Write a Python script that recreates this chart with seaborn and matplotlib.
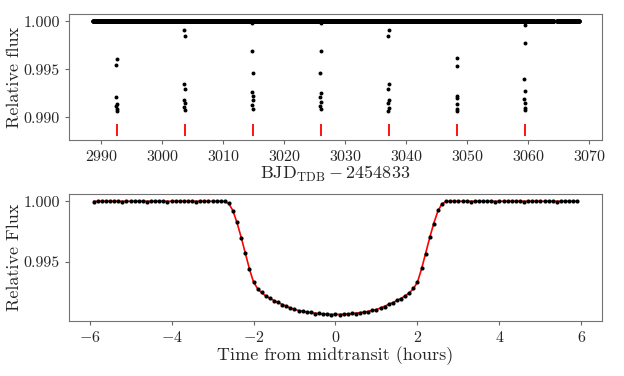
import numpy as np
import pandas as pd
import matplotlib
matplotlib.use("Agg")
import matplotlib.pyplot as plt
import seaborn as sns

sns.set_style("ticks")
plt.rcParams["font.family"] = "serif"
plt.rcParams["font.serif"] = ["cmr10", "DejaVu Serif"]
plt.rcParams["mathtext.fontset"] = "cm"
plt.rcParams["axes.formatter.use_mathtext"] = True
plt.rcParams["axes.unicode_minus"] = True

# ---- top panel: full light curve ----
# out-of-transit stretches (start, end) in days, sampled at Kepler long cadence
baseline_segments = [(2988.6, 3064.2), (3064.7, 3068.4)]
cadence = 0.0204
baseline_flux = 1.0

transit_times = [2992.55, 3003.7, 3014.85, 3026.0, 3037.15, 3048.3, 3059.45]

# in-transit points near each transit: (time, flux)
transit_pts = [
    (2992.50, 0.99605), (2992.45, 0.99545), (2992.47, 0.99216), (2992.52, 0.99140),
    (2992.48, 0.99113), (2992.50, 0.99085), (2992.51, 0.99062),
    (3003.62, 0.99910), (3003.70, 0.99850), (3003.62, 0.99348), (3003.70, 0.99293),
    (3003.63, 0.99178), (3003.70, 0.99147), (3003.62, 0.99110), (3003.66, 0.99078),
    (3014.78, 0.99980), (3014.77, 0.99694), (3014.83, 0.99465), (3014.77, 0.99262),
    (3014.83, 0.99220), (3014.80, 0.99180), (3014.76, 0.99130), (3014.80, 0.99085),
    (3025.97, 0.99980), (3025.96, 0.99694), (3025.92, 0.99459), (3025.96, 0.99251),
    (3025.93, 0.99210), (3025.98, 0.99164), (3025.93, 0.99120), (3025.95, 0.99085),
    (3037.10, 0.99910), (3037.05, 0.99850), (3037.13, 0.99348), (3037.07, 0.99293),
    (3037.13, 0.99182), (3037.07, 0.99147), (3037.10, 0.99100), (3037.08, 0.99067),
    (3048.25, 0.99615), (3048.33, 0.99538), (3048.25, 0.99223), (3048.30, 0.99200),
    (3048.26, 0.99137), (3048.30, 0.99088), (3048.28, 0.99067),
    (3059.40, 0.99962), (3059.48, 0.99771), (3059.37, 0.99397), (3059.43, 0.99275),
    (3059.38, 0.99189), (3059.42, 0.99147), (3059.40, 0.99100), (3059.42, 0.99077),
]

# ---- bottom panel: phase-folded transit ----
fold_time = np.round(np.arange(-5.9, 5.95, 0.1), 2)
fold_flux = [
    0.99993, 1.00002, 1.00001, 0.99998, 1.00003, 0.99999, 1.00001, 0.99997, 1.00002, 1.00000,
    0.99998, 1.00003, 1.00001, 0.99997, 1.00002, 1.00000, 1.00004, 0.99999, 0.99997, 1.00002,
    1.00001, 0.99998, 1.00003, 0.99999, 1.00000, 0.99997, 1.00002, 1.00001, 0.99998, 1.00002,
    0.99999, 1.00006, 1.00002, 0.99984, 0.99916, 0.99824, 0.99694, 0.99574, 0.99436, 0.99334,
    0.99271, 0.99244, 0.99212, 0.99198, 0.99174, 0.99163, 0.99141, 0.99133, 0.99112, 0.99106,
    0.99091, 0.99089, 0.99078, 0.99079, 0.99069, 0.99071, 0.99062, 0.99066, 0.99059, 0.99063,
    0.99058, 0.99066, 0.99062, 0.99071, 0.99069, 0.99074, 0.99084, 0.99085, 0.99097, 0.99100,
    0.99118, 0.99127, 0.99148, 0.99157, 0.99181, 0.99192, 0.99218, 0.99237, 0.99279, 0.99327,
    0.99446, 0.99566, 0.99706, 0.99815, 0.99924, 0.99977, 1.00003, 1.00001, 0.99998, 1.00002,
    0.99999, 1.00001, 0.99997, 1.00004, 0.99998, 1.00001, 0.99999, 1.00002, 0.99997, 1.00001,
    1.00002, 0.99998, 1.00000, 1.00003, 0.99999, 0.99997, 1.00002, 1.00000, 0.99998, 1.00001,
    1.00003, 0.99999, 1.00000, 0.99997, 1.00002, 1.00001, 0.99998, 1.00000, 0.99999,
]

model_time = [-5.9, -2.8, -2.7, -2.6, -2.5, -2.4, -2.3, -2.2, -2.1, -2.0, -1.9, -1.8, -1.7,
              -1.6, -1.5, -1.4, -1.3, -1.2, -1.1, -1.0, -0.9, -0.8, -0.7, -0.6, -0.5, -0.4,
              -0.3, -0.2, -0.1, 0.0]
model_half = [1.0, 1.0, 0.99998, 0.9998, 0.9992, 0.9982, 0.9970, 0.9957, 0.9944, 0.9933,
              0.99275, 0.99240, 0.99215, 0.99195, 0.99177, 0.99160, 0.99145, 0.99130, 0.99115,
              0.99103, 0.99094, 0.99087, 0.99081, 0.99076, 0.99072, 0.99068, 0.99065, 0.99063,
              0.99062, 0.99061]

# build tables
base_t = np.concatenate([np.arange(a, b, cadence) for a, b in baseline_segments])
lc = pd.DataFrame({"time": base_t, "flux": baseline_flux})
lc = pd.concat([lc, pd.DataFrame(transit_pts, columns=["time", "flux"])], ignore_index=True)
fold = pd.DataFrame({"time": fold_time, "flux": fold_flux})
model = pd.DataFrame({"time": model_time + [-t for t in model_time[-2::-1]],
                      "flux": model_half + model_half[-2::-1]})

fig = plt.figure(figsize=(6.24, 3.76), dpi=100)
ax1 = fig.add_axes([0.1106, 0.6277, 0.8541, 0.3351])
ax2 = fig.add_axes([0.1106, 0.1463, 0.8541, 0.3377])

sns.scatterplot(data=lc, x="time", y="flux", ax=ax1, color="black", s=8, linewidth=0)
ax1.vlines(transit_times, 0.9881, 0.9893, color="red", lw=1.3)
ax1.set_xlim(2984.7, 3072.1)
ax1.set_ylim(0.98764, 1.00076)
ax1.set_yticks([0.990, 0.995, 1.000])
ax1.yaxis.set_major_formatter(matplotlib.ticker.FormatStrFormatter("%.3f"))
ax1.set_xlabel(r"$\mathrm{BJD}_{\mathrm{TDB}} - 2454833$", fontsize=13, labelpad=0)
ax1.set_ylabel("Relative flux", fontsize=13)

sns.scatterplot(data=fold, x="time", y="flux", ax=ax2, color="black", s=9, linewidth=0, zorder=3)
sns.lineplot(data=model, x="time", y="flux", ax=ax2, color="red", lw=1.2, zorder=2)
ax2.set_xlim(-6.5, 6.5)
ax2.set_ylim(0.99007, 1.0006)
ax2.set_yticks([0.995, 1.000])
ax2.set_xticks([-6, -4, -2, 0, 2, 4, 6])
ax2.yaxis.set_major_formatter(matplotlib.ticker.FormatStrFormatter("%.3f"))
ax2.set_xlabel("Time from midtransit (hours)", fontsize=13, labelpad=1)
ax2.set_ylabel("Relative Flux", fontsize=13)

for ax in (ax1, ax2):
    ax.tick_params(labelsize=11.5, length=3, color="0.4")
    ax.yaxis.set_label_coords(-0.088, 0.5)
    for sp in ax.spines.values():
        sp.set_visible(True)
        sp.set_color("0.45")

fig.savefig("out.png", dpi=100)
